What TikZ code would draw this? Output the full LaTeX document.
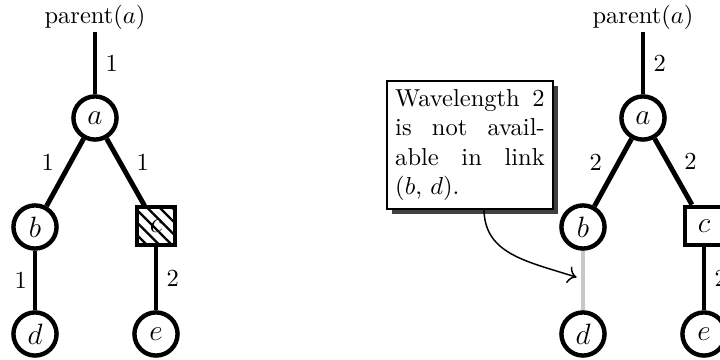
\documentclass[tikz,border=0pt]{standalone}
\usetikzlibrary{shadows,patterns.meta,calc,arrows.meta}
\begin{document}
\begin{tikzpicture}[x=0.408pt,y=-0.408pt,
  vtx/.style={circle,draw,line width=1.8pt,minimum size=17.6pt,inner sep=0pt,font=\large},
  sq/.style={rectangle,draw,line width=1.8pt,minimum size=15.6pt,inner sep=0pt,font=\large},
  hatched/.style={pattern={Lines[angle=-45,distance=3.6pt,line width=0.9pt]}},
  lnk/.style={line width=2pt},
  offlnk/.style={line width=2pt,draw=black!22},
  par/.style={inner sep=1pt},
  note/.style={draw,line width=0.7pt,fill=white,text width=61pt,align=justify,inner sep=3.5pt,
    drop shadow={shadow xshift=2pt,shadow yshift=-2pt,fill=black!75,opacity=1}},
  arr/.style={line width=0.6pt,-{To[length=3.5pt,width=7pt]}}]
\useasboundingbox (0,0) rectangle (720,360);
\clip (0,0) rectangle (720,360);
% left tree
\node[par] (pL) at (95,17) {parent($a$)};
\node[vtx] (aL) at (95,118) {$a$};
\node[vtx] (bL) at (35,227) {$b$};
\node[sq,hatched] (cL) at (156,226) {$c$};
\node[vtx] (dL) at (35,334) {$d$};
\node[vtx] (eL) at (156,334) {$e$};
\draw[lnk] (pL) -- node[right] {1} (aL);
\draw[lnk] (aL) -- node[pos=.35,left=2.5pt] {1} (bL);
\draw[lnk] (aL) -- node[pos=.35,right=2.5pt] {1} (cL);
\draw[lnk] (bL) -- node[left=-1pt] {1} (dL);
\draw[lnk] (cL) -- node[right] {2} (eL);
% right tree
\node[par] (pR) at (643,17) {parent($a$)};
\node[vtx] (aR) at (643,118) {$a$};
\node[vtx] (bR) at (583,227) {$b$};
\node[sq] (cR) at (704,226) {$c$};
\node[vtx] (dR) at (583,334) {$d$};
\node[vtx] (eR) at (704,334) {$e$};
\draw[lnk] (pR) -- node[right] {2} (aR);
\draw[lnk] (aR) -- node[pos=.35,left=2.5pt] {2} (bR);
\draw[lnk] (aR) -- node[pos=.35,right=2.5pt] {2} (cR);
\draw[offlnk] (bR) -- (dR);
\draw[lnk] (cR) -- node[right] {2} (eR);
% callout
\node[note] (nt) at (470,145) {Wavelength 2\linebreak is not avail-\linebreak able in link\linebreak $(b$, $d)$.};
\coordinate (s) at ($(nt.south)+(14,0)$);
\coordinate (tgt) at ($(bR)!0.47!(dR)+(-2.6pt,0)$);
\draw[arr] (s) .. controls ($(s)+(1,44)$) and ($(tgt)+(-50,-16)$) .. (tgt);
\end{tikzpicture}
\end{document}
